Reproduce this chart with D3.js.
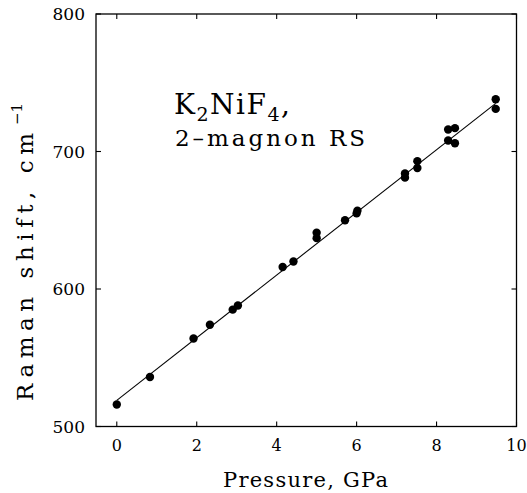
<!DOCTYPE html>
<html>
<head>
<meta charset="utf-8">
<script src="https://cdn.jsdelivr.net/npm/d3@7.9.0/dist/d3.min.js"></script>
<style>
  body { margin: 0; background: #fff; }
  svg { display: block; font-family: "DejaVu Serif", serif; }
</style>
</head>
<body>
<svg id="chart" width="527" height="493"></svg>
<script>
// pressure (GPa) and two-magnon Raman shift (cm^-1)
const pressure = [0, 0.83, 1.92, 2.33, 2.9, 3.03, 4.15, 4.42, 5.0, 5.0, 5.71, 6.0, 6.02,
  7.21, 7.21, 7.52, 7.52, 8.29, 8.29, 8.46, 8.46, 9.48, 9.48];
const shift = [516, 536, 564, 574, 585, 588, 616, 620, 641, 637, 650, 655, 657,
  684, 681, 693, 688, 716, 708, 717, 706, 738, 731];

// linear fit drawn through the points (end points)
const fitPressure = [0, 9.48];
const fitShift = [519, 735];

const xTicks = [0, 2, 4, 6, 8, 10];
const yTicks = [500, 600, 700, 800];

const svg = d3.select("#chart");

const area = { left: 96, right: 516.5, top: 14, bottom: 426.5 };

const x = d3.scaleLinear().domain([-0.52, 10]).range([area.left, area.right]);
const y = d3.scaleLinear().domain([500, 800]).range([area.bottom, area.top]);

const tickLen = 5;

// frame
svg.append("rect")
  .attr("x", area.left)
  .attr("y", area.top)
  .attr("width", area.right - area.left)
  .attr("height", area.bottom - area.top)
  .attr("fill", "none")
  .attr("stroke", "#000")
  .attr("stroke-width", 1.3);

// inward ticks on all four sides
const ticks = svg.append("g").attr("stroke", "#000").attr("stroke-width", 1.1);
xTicks.forEach((t) => {
  ticks.append("line").attr("x1", x(t)).attr("x2", x(t))
    .attr("y1", area.bottom).attr("y2", area.bottom - tickLen);
  ticks.append("line").attr("x1", x(t)).attr("x2", x(t))
    .attr("y1", area.top).attr("y2", area.top + tickLen);
});
yTicks.forEach((t) => {
  ticks.append("line").attr("x1", area.left).attr("x2", area.left + tickLen)
    .attr("y1", y(t)).attr("y2", y(t));
  ticks.append("line").attr("x1", area.right).attr("x2", area.right - tickLen)
    .attr("y1", y(t)).attr("y2", y(t));
});

// tick labels
svg.append("g")
  .selectAll("text")
  .data(xTicks)
  .join("text")
  .attr("x", (d) => x(d))
  .attr("y", 451)
  .attr("text-anchor", "middle")
  .attr("font-size", 16)
  .text((d) => d);

svg.append("g")
  .selectAll("text")
  .data(yTicks)
  .join("text")
  .attr("x", 85)
  .attr("y", (d) => y(d) + 6)
  .attr("text-anchor", "end")
  .attr("font-size", 17)
  .text((d) => d);

// axis titles
svg.append("text")
  .attr("x", 223)
  .attr("y", 487)
  .attr("font-size", 21)
  .attr("textLength", 165)
  .attr("lengthAdjust", "spacing")
  .text("Pressure, GPa");

svg.append("text")
  .attr("transform", "translate(33,401) rotate(-90)")
  .attr("font-size", 23)
  .attr("textLength", 268)
  .attr("lengthAdjust", "spacing")
  .text("Raman shift, cm");
svg.append("text")
  .attr("transform", "translate(22,125) rotate(-90)")
  .attr("font-size", 15)
  .text("−1");

// fit line
const line = d3.line()
  .x((d) => x(d[0]))
  .y((d) => y(d[1]));

svg.append("path")
  .datum(d3.zip(fitPressure, fitShift))
  .attr("d", line)
  .attr("fill", "none")
  .attr("stroke", "#000")
  .attr("stroke-width", 1.1);

// data points
svg.append("g")
  .selectAll("circle")
  .data(d3.zip(pressure, shift))
  .join("circle")
  .attr("cx", (d) => x(d[0]))
  .attr("cy", (d) => y(d[1]))
  .attr("r", 4.2)
  .attr("fill", "#000");

// annotation
const label = svg.append("text")
  .attr("x", 174)
  .attr("y", 114)
  .attr("font-size", 28)
  .attr("letter-spacing", 1.5);
label.append("tspan").text("K");
label.append("tspan").attr("dy", 7).attr("font-size", 19).text("2");
label.append("tspan").attr("dy", -7).text("NiF");
label.append("tspan").attr("dy", 7).attr("font-size", 19).text("4");
label.append("tspan").attr("dy", -7).text(",");

svg.append("text")
  .attr("x", 175)
  .attr("y", 146)
  .attr("font-size", 23)
  .attr("textLength", 190)
  .attr("lengthAdjust", "spacing")
  .text("2–magnon RS");
</script>
</body>
</html>
